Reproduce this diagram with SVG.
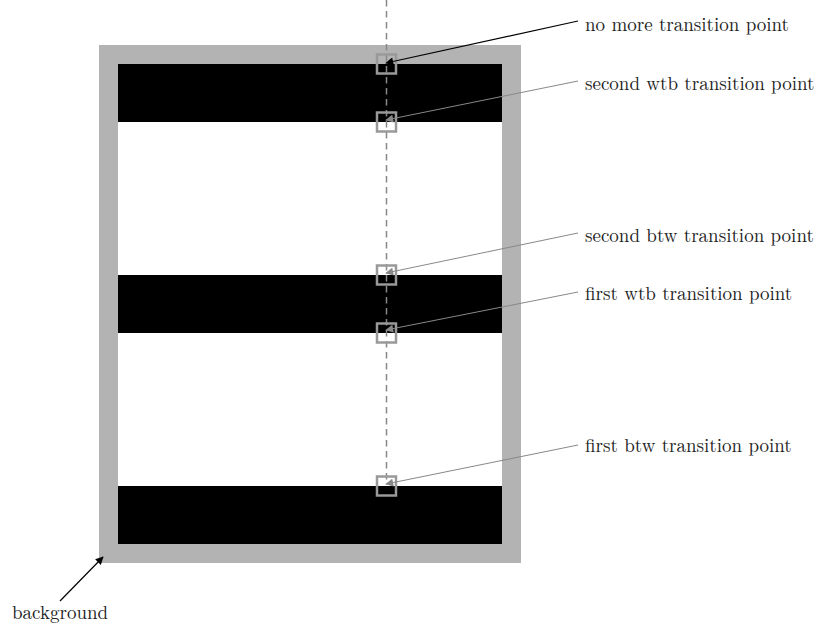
<svg xmlns="http://www.w3.org/2000/svg" width="817" height="626" viewBox="0 0 817 626">
  <style>
    .lbl { font-family: "Latin Modern Roman", "DejaVu Serif", "Liberation Serif", serif; font-size: 19px; fill: #222; }
    .pt { fill: none; stroke: #999; stroke-width: 2.5; }
    .lead { stroke: #888; stroke-width: 1; fill: none; marker-end: url(#ahGray); }
    .leadDark { stroke: #000; stroke-width: 1.2; fill: none; marker-end: url(#ahBlack); }
  </style>
  <defs>
    <marker id="ahGray" viewBox="0 0 10 10" refX="9" refY="5" markerWidth="10" markerHeight="8" markerUnits="userSpaceOnUse" orient="auto">
      <path d="M0,0 L10,5 L0,10 z" fill="#888"/>
    </marker>
    <marker id="ahBlack" viewBox="0 0 10 10" refX="9" refY="5" markerWidth="10" markerHeight="8" markerUnits="userSpaceOnUse" orient="auto">
      <path d="M0,0 L10,5 L0,10 z" fill="#000"/>
    </marker>
  </defs>
  <rect width="817" height="626" fill="#fff"/>

  <!-- background frame with stripes -->
  <g id="background">
    <rect x="99" y="45" width="422" height="518" fill="#b3b3b3"/>
    <rect x="118" y="64" width="384" height="480" fill="#fff"/>
    <rect x="118" y="64" width="384" height="58" fill="#000"/>
    <rect x="118" y="275" width="384" height="58" fill="#000"/>
    <rect x="118" y="486" width="384" height="58" fill="#000"/>
  </g>

  <!-- scan line -->
  <line id="scanline" x1="386.5" y1="0" x2="386.5" y2="480" stroke="#888" stroke-width="1.5" stroke-dasharray="6.5,4.5"/>

  <!-- transition points -->
  <g id="p-nomore"><rect class="pt" x="377" y="54.5" width="19" height="19"/></g>
  <g id="p-second-wtb"><rect class="pt" x="377" y="112.5" width="19" height="19"/></g>
  <g id="p-second-btw"><rect class="pt" x="377" y="265.5" width="19" height="19"/></g>
  <g id="p-first-wtb"><rect class="pt" x="377" y="323.5" width="19" height="19"/></g>
  <g id="p-first-btw"><rect class="pt" x="377" y="476.5" width="19" height="19"/></g>

  <!-- leaders -->
  <g id="connectors">
    <line class="leadDark" x1="578" y1="21" x2="386" y2="63"/>
    <line class="lead" x1="578" y1="81" x2="386" y2="120"/>
    <line class="lead" x1="578" y1="233" x2="386" y2="273"/>
    <line class="lead" x1="578" y1="292" x2="386" y2="330"/>
    <line class="lead" x1="578" y1="445" x2="386" y2="484"/>
    <line class="leadDark" x1="60" y1="601" x2="103" y2="557"/>
  </g>

  <!-- labels -->
  <g id="labels">
    <text class="lbl" x="585" y="30.5">no more transition point</text>
    <text class="lbl" x="585" y="89.5">second wtb transition point</text>
    <text class="lbl" x="585" y="241.5">second btw transition point</text>
    <text class="lbl" x="585" y="300">first wtb transition point</text>
    <text class="lbl" x="585" y="452">first btw transition point</text>
    <text class="lbl" x="12" y="619">background</text>
  </g>
</svg>
